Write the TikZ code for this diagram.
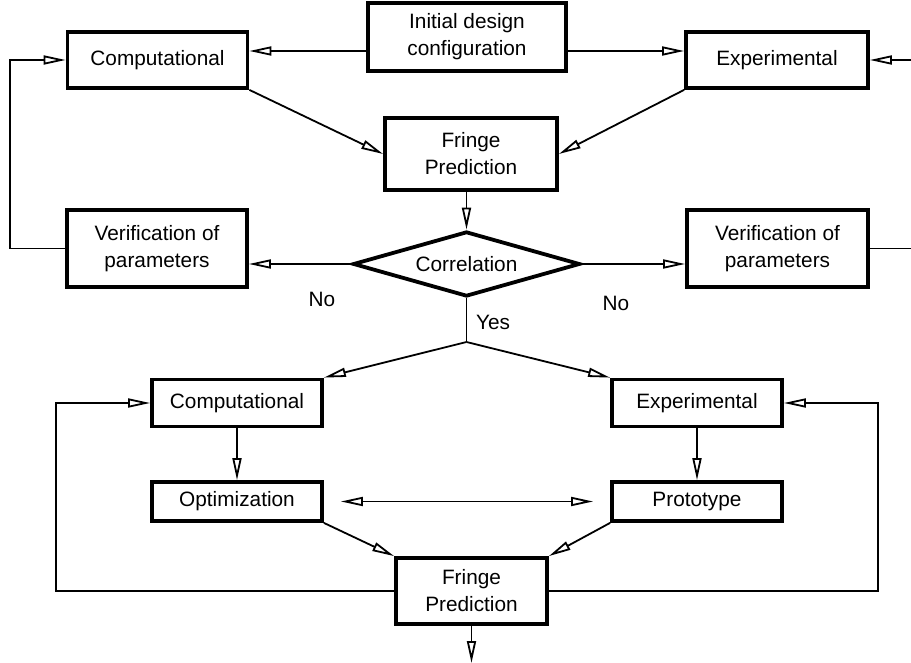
\documentclass[tikz,border=0pt]{standalone}
\usepackage{fontspec}
\setmainfont{Liberation Sans}
\usetikzlibrary{arrows.meta,shapes.geometric}
\begin{document}
\begin{tikzpicture}[x=1pt, y=-1pt,
    box/.style={rectangle, draw, line width=3.8pt, inner sep=0pt,
      align=center, font=\fontsize{20.8}{27}\selectfont},
    test/.style={diamond, draw, line width=3.8pt, inner sep=0pt,
      aspect=3.5, font=\fontsize{20.8}{27}\selectfont},
    lbl/.style={font=\fontsize{20.8}{27}\selectfont},
    arr/.style={-{Triangle[open, length=22pt, width=9pt]}, line width=1.8pt},
    both/.style={{Triangle[open, length=22pt, width=9pt]}-{Triangle[open,
      length=22pt, width=9pt]}, line width=1.8pt}]
  \useasboundingbox (0,0) rectangle (911,663);
  \begin{scope}[every node/.style={box}]
    \node[minimum width=198pt, minimum height=68pt] (init) at (467,37)
      {Initial design\\configuration};
    \node[minimum width=180pt, minimum height=56pt] (compA) at (157.5,60)
      {Computational}; \node[minimum width=182pt, minimum height=56pt]
      (expA) at (777,60) {Experimental};
    \node[minimum width=172pt, minimum height=72pt] (fringeA) at (471,154)
      {Fringe\\Prediction};
    \node[minimum width=180pt, minimum height=77pt] (verL) at (157,248.5)
      {Verification of\\parameters}; \node[minimum width=181pt, minimum
      height=77pt] (verR) at (777.5,248.5) {Verification of\\parameters};
    \node[minimum width=170pt, minimum height=47pt] (compB) at (237,403)
      {Computational}; \node[minimum width=170pt, minimum height=47pt]
      (expB) at (697,403) {Experimental};
    \node[minimum width=170pt, minimum height=39pt] (opt) at (237,501.5)
      {Optimization}; \node[minimum width=170pt, minimum height=39pt]
      (proto) at (697,501.5) {Prototype};
    \node[minimum width=151pt, minimum height=66pt] (fringeB) at (471.5,591)
      {Fringe\\Prediction};
  \end{scope}
  \node[test, minimum width=227pt, minimum height=65pt] (corr) at (466.5,264)
    {Correlation};

  \node[lbl] (noL) at (322,299) {No}; \node[lbl] (noR) at (616,303) {No};
  \node[lbl] (yes) at (493,322) {Yes};

  \coordinate (split) at (466.5,342); \coordinate (rout) at (911,248.5);
  \coordinate (rin) at (911,60); \coordinate (out) at (471.5,663);
  \coordinate (lA) at ([yshift=-14pt]init.west);
  \coordinate (rA) at ([yshift=-14pt]init.east);

  \begin{scope}[arr]
    \draw (lA) -- (lA -| compA.east); \draw (rA) -- (rA -| expA.west);
    \draw (compA.south east) -- (fringeA.west); \draw (expA.south west) --
    (fringeA.east);
    \draw (corr.north |- fringeA.south) -- (corr.north);
    \draw (corr.west) -- (corr.west -| verL.east); \draw (corr.east) --
    (corr.east -| verR.west);
    \draw (verL.west) -- ++(-55,0) |- (compA.west);
    \draw (rin) -- (expA.east);
    \draw (split) -- (compB.north east); \draw (split) -- (expB.north west);
    \draw (compB.south) -- (opt.north); \draw (expB.south) -- (proto.north);
    \draw (opt.south east) -- (fringeB.north west); \draw (proto.south west)
    -- (fringeB.north east);
    \draw (fringeB.south) -- (out);
    \draw (fringeB.west) -- ++(-338,0) |- (compB.west);
    \draw (fringeB.east) -- ++(329,0) |- (expB.east);
  \end{scope}
  \draw[line width=1.8pt] (corr.south) -- (split);
  \draw[line width=1.8pt] (verR.east) -- (rout);
  \draw[both] ([xshift=17pt]opt.east) -- ([xshift=-17pt]proto.west);
\end{tikzpicture}
\end{document}
